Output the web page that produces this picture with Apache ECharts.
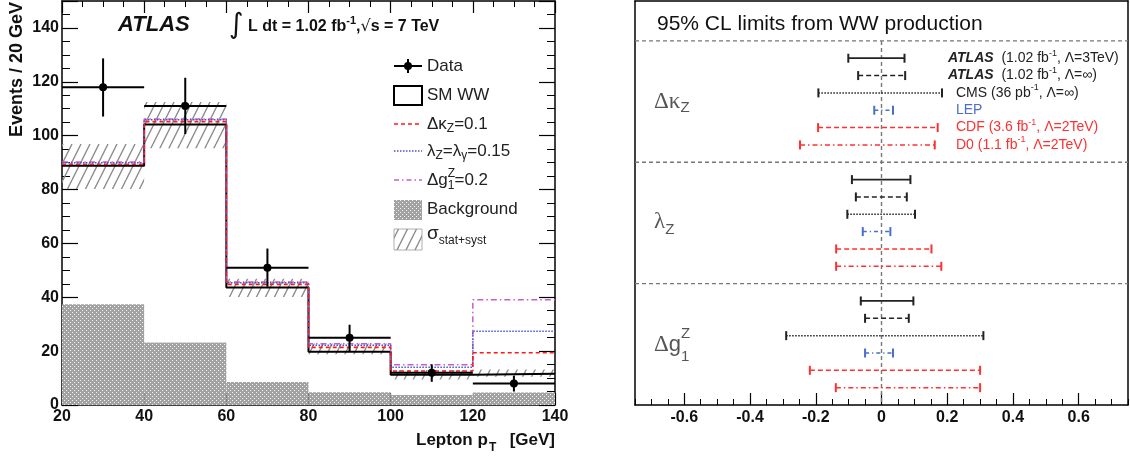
<!DOCTYPE html>
<html><head><meta charset="utf-8">
<script src="https://cdn.jsdelivr.net/npm/echarts@6/dist/echarts.min.js"></script>
<style>html,body{margin:0;padding:0;background:#fff}#c{width:1130px;height:460px}</style>
</head><body><div id="c"></div>
<script>
// ---------------- Left panel: lepton pT distribution ----------------
const binEdges = [20, 40, 60, 80, 100, 120, 140];
const dataCounts = [118, 111, 51, 25, 12, 8];
const dataErrUp = [10.7, 10.5, 7.1, 4.8, 3.1, 2.8];
const dataErrDown = [10.9, 10.4, 7.1, 5.3, 3.4, 3.0];
const smWW = [88.8, 104.1, 43.6, 19.8, 11.2, 11.6];
const dKappaZ = [89.4, 105.2, 44.8, 21.4, 12.6, 19.4];
const lambdaZ = [89.9, 105.9, 45.4, 22.2, 14.0, 27.4];
const dG1Z = [90.2, 106.2, 45.7, 22.7, 14.9, 39.1];
const background = [37.4, 23.2, 8.5, 4.7, 3.7, 4.6];
const bandLow = [80.2, 95.3, 40.1, 18.8, 9.5, 10.5];
const bandHigh = [96.9, 112.5, 46.9, 22.8, 13.0, 13.2];

// ---------------- Right panel: 95% CL limits ----------------
const experiments = ['ATLAS 3TeV', 'ATLAS inf', 'CMS', 'LEP', 'CDF', 'D0'];
const couplings = ['dKappaZ', 'lambdaZ', 'dg1Z'];
const kappaLo = [-0.101, -0.071, -0.192, -0.022, -0.193, -0.248];
const kappaHi = [0.070, 0.072, 0.184, 0.035, 0.171, 0.162];
const lambdaLo = [-0.090, -0.078, -0.104, -0.057, -0.138, -0.138];
const lambdaHi = [0.088, 0.077, 0.102, 0.027, 0.152, 0.182];
const g1Lo = [-0.063, -0.050, -0.290, -0.050, -0.218, -0.139];
const g1Hi = [0.097, 0.083, 0.310, 0.035, 0.300, 0.300];
const limitTicks = [-0.6, -0.4, -0.2, 0, 0.2, 0.4, 0.6];

const expStyle = [
  {color: '#222', dash: null, width: 1.8},
  {color: '#222', dash: [5, 3], width: 1.6},
  {color: '#222', dash: [1.5, 1.5], width: 1.5},
  {color: '#4a6fc8', dash: [4, 3, 1.2, 3], width: 1.5},
  {color: '#ff3030', dash: [5, 3], width: 1.5},
  {color: '#ff3030', dash: [5, 3, 1.5, 3], width: 1.5}
];

// ---------- patterns ----------
function tile(w, h, draw) { const c = document.createElement('canvas'); c.width = w; c.height = h; draw(c.getContext('2d')); return c; }
const bgTile = tile(4, 4, g => { g.fillStyle = '#a2a2a2'; g.fillRect(0, 0, 4, 4); g.fillStyle = '#f4f4f4'; g.fillRect(0, 0, 1, 1); g.fillRect(2, 2, 1, 1); });
const hatchTile = tile(9, 18, g => { g.strokeStyle = '#8c8c8c'; g.lineWidth = 1.4; g.beginPath(); for (const o of [-9, 0, 9]) { g.moveTo(o, 18); g.lineTo(o + 9, 0); } g.stroke(); });
const bgFill = {image: bgTile, repeat: 'repeat'};
const hatchFill = {image: hatchTile, repeat: 'repeat'};

const RED = '#ff1a1a', BLUE = '#4455dd', MAG = '#c860c0';

function histLine(vals) {
  const pts = vals.map((v, i) => [binEdges[i], v]);
  pts.push([binEdges[vals.length], vals[vals.length - 1]]);
  return pts;
}

const chart = echarts.init(document.getElementById('c'), null, {renderer: 'canvas'});

const tickLbl = {fontSize: 16, fontWeight: 'bold', color: '#111', fontFamily: 'Liberation Sans'};
const axLine = {show: true, onZero: false, lineStyle: {color: '#000', width: 1.5}};
const noLine = {show: false, onZero: false};

const option = {
  animation: false,
  textStyle: {fontFamily: 'Liberation Sans'},
  grid: [
    {left: 62, right: 575, top: 1, bottom: 55},
    {left: 635, right: 2, top: 1, bottom: 55}
  ],
  xAxis: [
    {gridIndex: 0, type: 'value', min: 20, max: 140, interval: 20, position: 'bottom',
     axisLine: axLine, axisTick: {inside: true, length: 12, lineStyle: {color: '#000', width: 1.2}},
     minorTick: {show: true, splitNumber: 4, length: 6, lineStyle: {color: '#000', width: 1}},
     axisLabel: Object.assign({margin: 4}, tickLbl), splitLine: {show: false}},
    {gridIndex: 0, type: 'value', min: 20, max: 140, interval: 20, position: 'top',
     axisLine: axLine, axisTick: {inside: true, length: 12, lineStyle: {color: '#000', width: 1.2}},
     minorTick: {show: true, splitNumber: 4, length: 6, lineStyle: {color: '#000', width: 1}},
     axisLabel: {show: false}, splitLine: {show: false}},
    {gridIndex: 1, type: 'value', min: -0.75, max: 0.75, position: 'bottom',
     axisLine: axLine,
     axisTick: {inside: true, length: 12, customValues: limitTicks, lineStyle: {color: '#000', width: 1.2}},
     axisLabel: Object.assign({margin: 5, customValues: limitTicks, formatter: v => (Math.abs(v) < 1e-9 ? '0' : v.toFixed(1))}, tickLbl),
     splitLine: {show: false}},
    {gridIndex: 1, type: 'value', min: -0.75, max: 0.75, interval: 0.05, position: 'bottom',
     axisLine: noLine, axisTick: {inside: true, length: 6, lineStyle: {color: '#000', width: 1}},
     axisLabel: {show: false}, splitLine: {show: false}},
    {gridIndex: 1, type: 'value', min: -0.75, max: 0.75, position: 'top',
     axisLine: axLine, axisTick: {show: false}, axisLabel: {show: false}, splitLine: {show: false}}
  ],
  yAxis: [
    {gridIndex: 0, type: 'value', min: 0, max: 150, interval: 20, position: 'left',
     axisLine: axLine, axisTick: {inside: true, length: 16, lineStyle: {color: '#000', width: 1.2}},
     axisLabel: Object.assign({margin: 3, formatter: v => (v > 145 ? '' : String(v))}, tickLbl), splitLine: {show: false}},
    {gridIndex: 0, type: 'value', min: 0, max: 150, interval: 5, position: 'left',
     axisLine: noLine, axisTick: {inside: true, length: 8, lineStyle: {color: '#000', width: 1}},
     axisLabel: {show: false}, splitLine: {show: false}},
    {gridIndex: 0, type: 'value', min: 0, max: 150, interval: 20, position: 'right',
     axisLine: axLine, axisTick: {inside: true, length: 16, lineStyle: {color: '#000', width: 1.2}},
     axisLabel: {show: false}, splitLine: {show: false}},
    {gridIndex: 0, type: 'value', min: 0, max: 150, interval: 5, position: 'right',
     axisLine: noLine, axisTick: {inside: true, length: 8, lineStyle: {color: '#000', width: 1}},
     axisLabel: {show: false}, splitLine: {show: false}},
    {gridIndex: 1, type: 'value', min: -3.3, max: 20, inverse: true, position: 'left',
     axisLine: axLine, axisTick: {show: false}, axisLabel: {show: false}, splitLine: {show: false}},
    {gridIndex: 1, type: 'value', min: -3.3, max: 20, inverse: true, position: 'right',
     axisLine: axLine, axisTick: {show: false}, axisLabel: {show: false}, splitLine: {show: false}}
  ],
  series: []
};

// ---- left series ----
option.series.push({
  type: 'custom', xAxisIndex: 0, yAxisIndex: 0, z: 1, silent: true,
  data: background.map((v, i) => [binEdges[i], binEdges[i + 1], v]),
  encode: {x: [0, 1], y: 2},
  renderItem: (p, api) => {
    const a = api.coord([api.value(0), api.value(2)]);
    const b = api.coord([api.value(1), 0]);
    return {type: 'rect', shape: {x: a[0], y: a[1], width: b[0] - a[0], height: b[1] - a[1]}, style: {fill: bgFill}};
  }
});
option.series.push({
  type: 'custom', xAxisIndex: 0, yAxisIndex: 0, z: 2, silent: true,
  data: bandLow.map((v, i) => [binEdges[i], binEdges[i + 1], v, bandHigh[i]]),
  encode: {x: [0, 1], y: [2, 3]},
  renderItem: (p, api) => {
    const a = api.coord([api.value(0), api.value(3)]);
    const b = api.coord([api.value(1), api.value(2)]);
    return {type: 'rect', shape: {x: a[0], y: a[1], width: b[0] - a[0], height: b[1] - a[1]}, style: {fill: hatchFill}};
  }
});
function stepSeries(vals, color, width, type, z) {
  return {type: 'line', xAxisIndex: 0, yAxisIndex: 0, data: histLine(vals), step: 'end', showSymbol: false, symbol: 'none',
    silent: true, z: z, lineStyle: {color: color, width: width, type: type}};
}
option.series.push(stepSeries(smWW, '#000', 2, 'solid', 3));
option.series.push(stepSeries(dG1Z, MAG, 1.5, [6, 3, 1.5, 3], 4));
option.series.push(stepSeries(lambdaZ, BLUE, 1.5, [1.5, 1.5], 4));
option.series.push(stepSeries(dKappaZ, RED, 1.6, [4, 3], 4));
option.series.push({
  type: 'custom', xAxisIndex: 0, yAxisIndex: 0, z: 6, silent: true,
  data: dataCounts.map((v, i) => [(binEdges[i] + binEdges[i + 1]) / 2, v, v - dataErrDown[i], v + dataErrUp[i], binEdges[i], binEdges[i + 1]]),
  encode: {x: 0, y: 1},
  renderItem: (p, api) => {
    const c = api.coord([api.value(0), api.value(1)]);
    const lo = api.coord([api.value(0), api.value(2)]);
    const hi = api.coord([api.value(0), api.value(3)]);
    const l = api.coord([api.value(4), api.value(1)]);
    const r = api.coord([api.value(5), api.value(1)]);
    return {type: 'group', children: [
      {type: 'line', shape: {x1: l[0], y1: c[1], x2: r[0], y2: c[1]}, style: {stroke: '#000', lineWidth: 2}},
      {type: 'line', shape: {x1: c[0], y1: lo[1], x2: c[0], y2: hi[1]}, style: {stroke: '#000', lineWidth: 2}},
      {type: 'circle', shape: {cx: c[0], cy: c[1], r: 4}, style: {fill: '#000'}}
    ]};
  }
});

// ---- right series ----
const sepRows = [-1, 6, 13];
option.series.push({
  type: 'custom', xAxisIndex: 2, yAxisIndex: 4, z: 1, silent: true,
  data: sepRows.map(k => [0, k]), encode: {x: 0, y: 1},
  renderItem: (p, api) => {
    const cs = p.coordSys;
    const y = api.coord([0, api.value(1)])[1];
    return {type: 'line', shape: {x1: cs.x, y1: y, x2: cs.x + cs.width, y2: y}, style: {stroke: '#777', lineWidth: 1.4, lineDash: [4, 3]}};
  }
});
option.series.push({
  type: 'custom', xAxisIndex: 2, yAxisIndex: 4, z: 1, silent: true,
  data: [[0, -1, 20]], encode: {x: 0, y: [1, 2]},
  renderItem: (p, api) => {
    const a = api.coord([api.value(0), api.value(1)]);
    const b = api.coord([api.value(0), api.value(2)]);
    return {type: 'line', shape: {x1: a[0], y1: a[1], x2: b[0], y2: b[1]}, style: {stroke: '#777', lineWidth: 1.4, lineDash: [4, 3]}};
  }
});
const loArr = [kappaLo, lambdaLo, g1Lo], hiArr = [kappaHi, lambdaHi, g1Hi];
experiments.forEach((name, e) => {
  const st = expStyle[e];
  option.series.push({
    type: 'custom', name: name, xAxisIndex: 2, yAxisIndex: 4, z: 3, silent: true,
    data: couplings.map((c, g) => [loArr[g][e], hiArr[g][e], g * 7 + e]),
    encode: {x: [0, 1], y: 2},
    renderItem: (p, api) => {
      const a = api.coord([api.value(0), api.value(2)]);
      const b = api.coord([api.value(1), api.value(2)]);
      return {type: 'group', children: [
        {type: 'line', shape: {x1: a[0], y1: a[1], x2: b[0], y2: b[1]}, style: {stroke: st.color, lineWidth: st.width, lineDash: st.dash}},
        {type: 'line', shape: {x1: a[0], y1: a[1] - 4.5, x2: a[0], y2: a[1] + 4.5}, style: {stroke: st.color, lineWidth: 2}},
        {type: 'line', shape: {x1: b[0], y1: b[1] - 4.5, x2: b[0], y2: b[1] + 4.5}, style: {stroke: st.color, lineWidth: 2}}
      ]};
    }
  });
});

chart.setOption(option);

// ---------- text helpers ----------
const mctx = document.createElement('canvas').getContext('2d');
function fnt(p) { return (p.style || 'normal') + ' ' + (p.weight || 'normal') + ' ' + p.size + 'px "' + (p.family || 'Liberation Sans') + '"'; }
function seq(x, y, pieces, opt) {
  opt = opt || {};
  const ws = pieces.map(p => { mctx.font = fnt(p); return mctx.measureText(p.t).width; });
  let tot = 0; pieces.forEach((p, i) => { if (!p.noAdv) tot += ws[i]; });
  let cx = opt.align === 'right' ? x - tot : x;
  const els = [];
  pieces.forEach((p, i) => {
    els.push({type: 'text', x: cx, y: y + (p.dy || 0), silent: true, z: 50,
      style: {text: p.t, fill: p.color || opt.color || '#222', fontSize: p.size, fontWeight: p.weight || 'normal',
        fontStyle: p.style || 'normal', fontFamily: p.family || 'Liberation Sans', textAlign: 'left', verticalAlign: 'middle'}});
    if (!p.noAdv) cx += ws[i];
  });
  return els;
}

const G = [];
// Left: ATLAS label + luminosity
G.push(...seq(118, 25, [{t: 'ATLAS', size: 22, weight: 'bold', style: 'italic'}], {color: '#111'}));
G.push(...seq(229, 26, [{t: '∫', size: 28, family: 'DejaVu Sans'}], {color: '#111'}));
G.push(...seq(248, 27, [
  {t: 'L dt = 1.02 fb', size: 16, weight: 'bold'},
  {t: '-1', size: 11, weight: 'bold', dy: -6},
  {t: ',', size: 16, weight: 'bold'},
  {t: '√', size: 16, family: 'DejaVu Sans'},
  {t: 's', size: 16, weight: 'bold'},
  {t: ' = 7 TeV', size: 16, weight: 'bold'}
], {color: '#111'}));

// Left axis titles
G.push({type: 'text', x: 17, y: 2, rotation: Math.PI / 2, silent: true, z: 50,
  style: {text: 'Events / 20 GeV', fill: '#111', fontSize: 18, fontWeight: 'bold', fontFamily: 'Liberation Sans', textAlign: 'right', verticalAlign: 'middle'}});
G.push(...seq(416, 440, [{t: 'Lepton p', size: 17, weight: 'bold'}], {color: '#111'}));
G.push(...seq(489, 448, [{t: 'T', size: 12, weight: 'bold'}], {color: '#111'}));
G.push(...seq(555, 440, [{t: '[GeV]', size: 17, weight: 'bold'}], {color: '#111', align: 'right'}));

// Left legend
const LX = 394, LW = 28, TX = 427;
G.push({type: 'line', shape: {x1: LX, y1: 66, x2: LX + LW, y2: 66}, style: {stroke: '#000', lineWidth: 2}, z: 50});
G.push({type: 'line', shape: {x1: LX + LW / 2, y1: 59, x2: LX + LW / 2, y2: 73}, style: {stroke: '#000', lineWidth: 2}, z: 50});
G.push({type: 'circle', shape: {cx: LX + LW / 2, cy: 66, r: 4}, style: {fill: '#000'}, z: 50});
G.push(...seq(TX, 66, [{t: 'Data', size: 17}]));
G.push({type: 'rect', shape: {x: LX, y: 86, width: LW, height: 19}, style: {fill: 'none', stroke: '#000', lineWidth: 2}, z: 50});
G.push(...seq(TX, 95, [{t: 'SM WW', size: 17}]));
G.push({type: 'line', shape: {x1: LX, y1: 124, x2: LX + LW, y2: 124}, style: {stroke: RED, lineWidth: 1.5, lineDash: [4, 3]}, z: 50});
G.push(...seq(TX, 124, [{t: 'Δκ', size: 17}, {t: 'Z', size: 12, dy: 5}, {t: '=0.1', size: 17}]));
G.push({type: 'line', shape: {x1: LX, y1: 151, x2: LX + LW, y2: 151}, style: {stroke: BLUE, lineWidth: 1.5, lineDash: [1.5, 1.5]}, z: 50});
G.push(...seq(TX, 151, [{t: 'λ', size: 17}, {t: 'Z', size: 12, dy: 5}, {t: '=λ', size: 17}, {t: 'γ', size: 12, dy: 5}, {t: '=0.15', size: 17}]));
G.push({type: 'line', shape: {x1: LX, y1: 180, x2: LX + LW, y2: 180}, style: {stroke: MAG, lineWidth: 1.5, lineDash: [5, 3, 1.5, 3]}, z: 50});
G.push(...seq(TX, 180, [{t: 'Δg', size: 17}, {t: 'Z', size: 12, dy: -6, noAdv: true}, {t: '1', size: 12, dy: 6}, {t: '=0.2', size: 17}]));
G.push({type: 'rect', shape: {x: LX, y: 200, width: LW, height: 20}, style: {fill: bgFill}, z: 50});
G.push(...seq(TX, 209, [{t: 'Background', size: 17}]));
G.push({type: 'rect', shape: {x: LX, y: 229, width: LW, height: 21}, style: {fill: hatchFill, stroke: '#999', lineWidth: 0.8}, z: 50});
G.push(...seq(TX, 234, [{t: 'σ', size: 19}, {t: 'stat+syst', size: 12, dy: 7}]));

// Right title and group labels
G.push(...seq(657, 24, [{t: '95% CL limits from WW production', size: 21}], {color: '#111'}));
function rowY(k) { return chart.convertToPixel({yAxisIndex: 4}, k); }
const GC = '#555';
G.push(...seq(654, rowY(2.5), [{t: 'Δκ', size: 23, family: 'Liberation Serif'}, {t: 'Z', size: 15, dy: 6}], {color: GC}));
G.push(...seq(654, rowY(9.5) - 1, [{t: 'λ', size: 23, family: 'Liberation Serif'}, {t: 'Z', size: 15, dy: 8}], {color: GC}));
G.push(...seq(654, rowY(16.5) + 1, [{t: 'Δ', size: 23, family: 'Liberation Serif'}, {t: 'g', size: 22}, {t: 'Z', size: 15, dy: -11, noAdv: true}, {t: '1', size: 15, dy: 12}], {color: GC}));

// Right row labels (first group)
const rowLabels = [
  {x: 948, color: '#222', pieces: [{t: 'ATLAS', size: 14, weight: 'bold', style: 'italic'}, {t: '  (1.02 fb', size: 14}, {t: '-1', size: 9, dy: -5}, {t: ', Λ=3TeV)', size: 14}]},
  {x: 948, color: '#222', pieces: [{t: 'ATLAS', size: 14, weight: 'bold', style: 'italic'}, {t: '  (1.02 fb', size: 14}, {t: '-1', size: 9, dy: -5}, {t: ', Λ=∞)', size: 14}]},
  {x: 956, color: '#222', pieces: [{t: 'CMS (36 pb', size: 14}, {t: '-1', size: 9, dy: -5}, {t: ', Λ=∞)', size: 14}]},
  {x: 956, color: '#4a6fc8', pieces: [{t: 'LEP', size: 14}]},
  {x: 956, color: '#ff3030', pieces: [{t: 'CDF (3.6 fb', size: 14}, {t: '-1', size: 9, dy: -5}, {t: ', Λ=2TeV)', size: 14}]},
  {x: 956, color: '#ff3030', pieces: [{t: 'D0 (1.1 fb', size: 14}, {t: '-1', size: 9, dy: -5}, {t: ', Λ=2TeV)', size: 14}]}
];
rowLabels.forEach((r, e) => { G.push(...seq(r.x, rowY(e), r.pieces, {color: r.color})); });

chart.setOption({graphic: G});
</script>
</body></html>
